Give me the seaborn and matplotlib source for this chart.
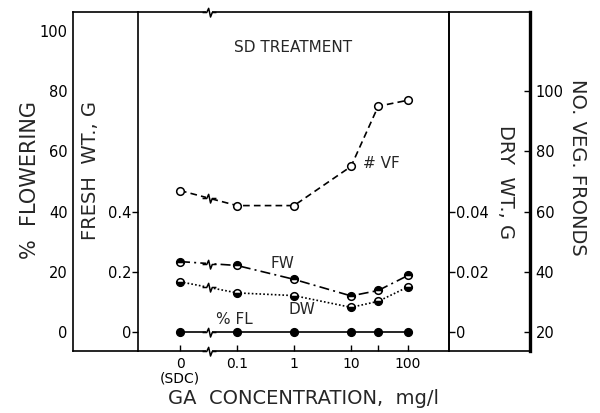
import numpy as np
import pandas as pd
import matplotlib
matplotlib.use("Agg")
import matplotlib.pyplot as plt
import seaborn as sns
from matplotlib.path import Path
from matplotlib.markers import MarkerStyle

# ---------------- data ----------------
conc = [0, 0.1, 1, 10, 30, 100]                      # GA concentration, mg/l (0 = SDC control)
conc_labels = ["0\n(SDC)", "0.1", "1", "10", "", "100"]
veg_fronds = [67, 62, 62, 75, 95, 97]                 # No. veg. fronds
fresh_wt = [0.234, 0.221, 0.175, 0.120, 0.138, 0.188]  # fresh wt., g
dry_wt = [0.0167, 0.0130, 0.0121, 0.0082, 0.0102, 0.0150]  # dry wt., g
pct_flowering = [0, 0, 0, 0, 0, 0]                    # % flowering

pct_ticks = [0, 20, 40, 60, 80, 100]
fw_ticks = [0, 0.2, 0.4]
fw_tick_labels = ["0", "0.2", "0.4"]
dw_ticks = [0, 0.02, 0.04]
dw_tick_labels = ["0", "0.02", "0.04"]
vf_ticks = [20, 40, 60, 80, 100]

ZERO_POS = 0.01   # where the 0 (SDC) control sits on the broken log axis
xpos = [c if c > 0 else ZERO_POS for c in conc]
df = pd.DataFrame({"x": xpos, "vf": veg_fronds, "fw": fresh_wt,
                   "dw": dry_wt, "fl": pct_flowering})

# ---------------- style ----------------
sns.set_theme(style="white")
plt.rcParams["font.family"] = ["DejaVu Sans"]
plt.rcParams["axes.linewidth"] = 1.2
plt.rcParams["axes.edgecolor"] = "black"
plt.rcParams["xtick.color"] = "black"
plt.rcParams["ytick.color"] = "black"

W, H = 600, 413
fig = plt.figure(figsize=(W / 100, H / 100), dpi=100)
fig.patch.set_facecolor("white")


def rect(x0, y0, x1, y1):
    return [x0 / W, 1 - y1 / H, (x1 - x0) / W, (y1 - y0) / H]


TOP, BOT = 12, 351
ax_left = fig.add_axes(rect(73, TOP, 138, BOT))    # % flowering scale
ax_right = fig.add_axes(rect(449, TOP, 530, BOT))  # veg fronds scale
ax = fig.add_axes(rect(138, TOP, 449, BOT))        # fresh weight units
for a in (ax_left, ax_right):
    a.patch.set_visible(False)

ax.set_xscale("log")
ax.set_xlim(10 ** -2.737, 10 ** 2.719)
ax_dw = ax.twinx()
ax_vf = ax.twinx()
ax_pct = ax.twinx()

pct_lim = (-6.3, 106.3)
ax_pct.set_ylim(*pct_lim)
ax.set_ylim(pct_lim[0] / 100, pct_lim[1] / 100)
ax_dw.set_ylim(pct_lim[0] / 1000, pct_lim[1] / 1000)
ax_vf.set_ylim(pct_lim[0] + 20, pct_lim[1] + 20)
ax_left.set_ylim(*pct_lim)
ax_right.set_ylim(pct_lim[0] + 20, pct_lim[1] + 20)

common = dict(color="black", markeredgecolor="black", markersize=5.5,
              markeredgewidth=1.1, linewidth=1.2, marker="o")

sns.lineplot(data=df, x="x", y="vf", ax=ax_vf, linestyle=(0, (4, 2.5)),
             markerfacecolor="white", **common)
sns.lineplot(data=df, x="x", y="fw", ax=ax, linestyle=(0, (6, 2.5, 1.2, 2.5)),
             markerfacecolor="black", fillstyle="top",
             markerfacecoloralt="white", **common)
sns.lineplot(data=df, x="x", y="dw", ax=ax_dw, linestyle=(0, (1, 1.3)),
             markerfacecolor="black", fillstyle="bottom",
             markerfacecoloralt="white", **common)
sns.lineplot(data=df, x="x", y="fl", ax=ax_pct, linestyle="-",
             markerfacecolor="black", **common)

# ---------------- axis break marks ----------------
zig = MarkerStyle(Path([(-1, 0), (-0.4, 0), (-0.12, 0.6), (0.15, -0.65),
                        (0.4, 0), (1, 0)]))
xb = 10 ** -1.5


def brk(a, y, transform=None):
    kw = dict(clip_on=False, zorder=10)
    if transform is not None:
        kw["transform"] = transform
    a.plot([xb], [y], marker="_", color="white", markersize=5,
           markeredgewidth=3, linestyle="none", **kw)
    a.plot([xb], [y], marker=zig, color="black", markersize=10,
           markerfacecolor="none", markeredgewidth=1.1, linestyle="none", **kw)


brk(ax, 0, ax.get_xaxis_transform())
brk(ax, 1, ax.get_xaxis_transform())
lx = np.log10(xpos[:2])
brk(ax_vf, np.interp(np.log10(xb), lx, veg_fronds[:2]))
brk(ax, np.interp(np.log10(xb), lx, fresh_wt[:2]))
brk(ax_dw, np.interp(np.log10(xb), lx, dry_wt[:2]))
brk(ax_pct, np.interp(np.log10(xb), lx, pct_flowering[:2]))

# ---------------- ticks ----------------
ax.set_xticks(xpos)
ax.set_xticklabels(conc_labels, linespacing=1.05)
ax.xaxis.set_minor_locator(matplotlib.ticker.NullLocator())
ax.tick_params(axis="x", which="both", direction="in", length=4, width=1,
               pad=4, labelsize=10, top=False, bottom=True)
ax.set_yticks(fw_ticks)
ax.set_yticklabels(fw_tick_labels)
ax.tick_params(axis="y", direction="out", length=4, width=1, pad=1,
               labelsize=10.5, left=True, right=False)

ax_dw.set_yticks(dw_ticks)
ax_dw.set_yticklabels(dw_tick_labels)
ax_dw.tick_params(axis="y", direction="out", length=4, width=1, pad=1,
                  labelsize=10.5, right=True, left=False)

for a in (ax_vf, ax_pct):
    a.set_yticks([])
    for s in a.spines.values():
        s.set_visible(False)
for s in ("left", "top", "bottom"):
    ax_dw.spines[s].set_visible(False)

for a in (ax, ax_dw, ax_vf, ax_pct):
    a.set_xlabel("")
    a.set_ylabel("")

ax_left.set_xticks([])
ax_left.set_yticks(pct_ticks)
ax_left.set_yticklabels([str(t) for t in pct_ticks])
ax_left.tick_params(axis="y", direction="in", length=5, width=1, pad=4,
                    labelsize=10.5)
ax_left.spines["right"].set_visible(False)

ax_right.set_xticks([])
ax_right.yaxis.tick_right()
ax_right.set_yticks(vf_ticks)
ax_right.set_yticklabels([str(t) for t in vf_ticks])
ax_right.tick_params(axis="y", direction="in", length=4, width=1, pad=4,
                     labelsize=10.5)
ax_right.spines["left"].set_visible(False)
ax_right.spines["right"].set_linewidth(2.4)

# ---------------- texts ----------------
def ftext(x, y, s, **kw):
    fig.text(x / W, 1 - y / H, s, ha="center", va="center", **kw)


ftext(293, 48, "SD TREATMENT", fontsize=11)
ftext(381, 163, "# VF", fontsize=11)
ftext(282, 263, "FW", fontsize=11)
ftext(302, 310, "DW", fontsize=11)
ftext(234, 320, "% FL", fontsize=11)
ftext(304, 399, "GA  CONCENTRATION,  mg/l", fontsize=14)
ftext(30, 180, "%  FLOWERING", fontsize=15, rotation=90)
ftext(91, 170, "FRESH  WT., G", fontsize=14, rotation=90)
ftext(506, 182, "DRY  WT., G", fontsize=14, rotation=270)
ftext(577, 167, "NO. VEG. FRONDS", fontsize=14, rotation=270)

fig.savefig("out.png", dpi=100, facecolor="white")
